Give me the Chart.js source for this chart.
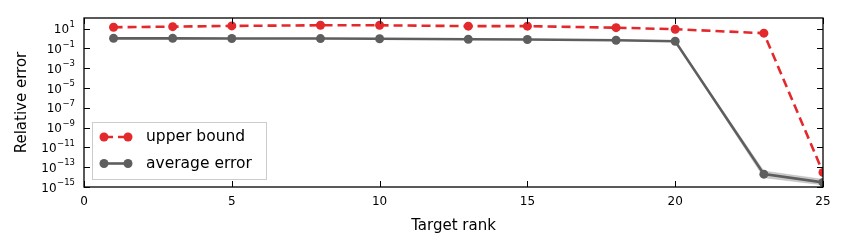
<!DOCTYPE html>
<html><head><meta charset="utf-8">
<script src="https://cdn.jsdelivr.net/npm/chart.js@4.4.1/dist/chart.umd.min.js"></script>
<style>html,body{margin:0;padding:0;background:#fff;}canvas{display:block;}</style>
</head><body>
<canvas id="c" width="850" height="250"></canvas>
<script>
const targetRanks = [1, 3, 5, 8, 10, 13, 15, 18, 20, 23, 25];
const upperBound = [14, 16, 19, 22, 22, 18, 18, 12.7, 8.8, 3.5, 3e-14];
const averageError = [1.05, 1.05, 1.03, 1.0, 0.95, 0.86, 0.8, 0.68, 0.54, 2.0e-14, 2.9e-15];
const averageErrorMin = [1.0, 1.0, 0.98, 0.95, 0.9, 0.82, 0.76, 0.64, 0.5, 8.7e-15, 1.6e-15];
const averageErrorMax = [1.1, 1.1, 1.08, 1.05, 1.0, 0.9, 0.84, 0.72, 0.58, 4.2e-14, 6.0e-15];
const xTicks = [0, 5, 10, 15, 20, 25];
const yTickExponents = [1, -1, -3, -5, -7, -9, -11, -13, -15];
const seriesLabels = ['upper bound', 'average error'];
const axisTitles = { x: 'Target rank', y: 'Relative error' };

const FONT = 'DejaVu Sans';
const RED = '#e3292b';
const GREY = '#5e5e5e';
const CLIP = { left: 0, top: 0, right: 0, bottom: 0 };

const pts = arr => targetRanks.map((r, i) => ({ x: r, y: arr[i] }));

const overlay = {
  id: 'overlay',
  afterDraw(chart) {
    const { ctx, chartArea: a, scales: { x, y } } = chart;
    ctx.save();
    ctx.strokeStyle = '#000';
    ctx.lineWidth = 1;
    const TL = 6;
    xTicks.forEach(v => {
      const px = Math.round(x.getPixelForValue(v)) + 0.5;
      ctx.beginPath();
      ctx.moveTo(px, a.bottom); ctx.lineTo(px, a.bottom - TL);
      ctx.moveTo(px, a.top); ctx.lineTo(px, a.top + TL);
      ctx.stroke();
    });
    yTickExponents.forEach(e => {
      const py = Math.round(y.getPixelForValue(Math.pow(10, e))) + 0.5;
      ctx.beginPath();
      ctx.moveTo(a.left, py); ctx.lineTo(a.left + TL, py);
      ctx.moveTo(a.right, py); ctx.lineTo(a.right - TL, py);
      ctx.stroke();
    });
    ctx.lineWidth = 1.3;
    ctx.strokeRect(a.left, a.top, a.right - a.left, a.bottom - a.top);

    // y tick labels with superscript exponents
    ctx.fillStyle = '#000';
    ctx.textBaseline = 'middle';
    const rightEdge = a.left - 9;
    yTickExponents.forEach(e => {
      const py = y.getPixelForValue(Math.pow(10, e));
      const sup = (e < 0 ? '\u2212' : '') + Math.abs(e);
      ctx.font = '8.5px "' + FONT + '"';
      const ws = ctx.measureText(sup).width;
      ctx.textAlign = 'left';
      ctx.fillText(sup, rightEdge - ws, py - 4);
      ctx.font = '12px "' + FONT + '"';
      ctx.textAlign = 'right';
      ctx.fillText('10', rightEdge - ws - 0.5, py + 1.5);
    });

    // legend
    const lx = a.left + 8, ly = a.top + 104, lw = 174, lh = 57;
    ctx.fillStyle = 'rgba(255,255,255,0.85)';
    ctx.fillRect(lx, ly, lw, lh);
    ctx.strokeStyle = '#cccccc';
    ctx.lineWidth = 1;
    ctx.strokeRect(lx + 0.5, ly + 0.5, lw, lh);
    [0, 1].forEach(i => {
      const ds = chart.data.datasets[i];
      const cy = ly + 15 + i * 26.5;
      const x1 = lx + 12, x2 = lx + 36;
      ctx.strokeStyle = ds.borderColor;
      ctx.lineWidth = ds.borderWidth;
      ctx.setLineDash(ds.borderDash || []);
      ctx.beginPath();
      ctx.moveTo(x1, cy); ctx.lineTo(x2, cy);
      ctx.stroke();
      ctx.setLineDash([]);
      ctx.fillStyle = ds.pointBackgroundColor;
      [x1, x2].forEach(mx => {
        ctx.beginPath(); ctx.arc(mx, cy, ds.pointRadius, 0, Math.PI * 2); ctx.fill();
      });
      ctx.fillStyle = '#000';
      ctx.font = '15.5px "' + FONT + '"';
      ctx.textAlign = 'left';
      ctx.textBaseline = 'middle';
      ctx.fillText(ds.label, lx + 54, cy);
    });
    ctx.restore();
  }
};

new Chart(document.getElementById('c'), {
  type: 'line',
  data: {
    datasets: [
      {
        label: seriesLabels[0], data: pts(upperBound),
        borderColor: RED, borderWidth: 2.6, borderDash: [9, 5],
        pointRadius: 4.5, pointBackgroundColor: RED, pointBorderWidth: 0,
        fill: false, clip: CLIP, tension: 0
      },
      {
        label: seriesLabels[1], data: pts(averageError),
        borderColor: GREY, borderWidth: 2.6,
        pointRadius: 4.5, pointBackgroundColor: GREY, pointBorderWidth: 0,
        fill: false, clip: CLIP, tension: 0
      },
      {
        label: 'min', data: pts(averageErrorMin),
        borderColor: 'rgba(150,150,150,0.5)', borderWidth: 0.5, pointRadius: 0,
        fill: false, clip: CLIP
      },
      {
        label: 'max', data: pts(averageErrorMax),
        borderColor: 'rgba(150,150,150,0.5)', borderWidth: 0.5, pointRadius: 0,
        backgroundColor: 'rgba(140,140,140,0.45)',
        fill: 2, clip: CLIP
      }
    ]
  },
  options: {
    responsive: false,
    animation: false,
    events: [],
    layout: { padding: { top: 18, right: 27, left: 0, bottom: 0 } },
    plugins: { legend: { display: false }, tooltip: { enabled: false } },
    scales: {
      x: {
        type: 'linear', position: 'bottom', min: 0, max: 25,
        afterBuildTicks: s => { s.ticks = xTicks.map(v => ({ value: v })); },
        afterFit: s => { s.height = 63; },
        grid: { display: false, drawTicks: false },
        border: { display: false },
        ticks: { color: '#000', font: { family: FONT, size: 12 }, padding: 8, maxRotation: 0 },
        title: { display: true, text: axisTitles.x, color: '#000', font: { family: FONT, size: 15 }, padding: { top: 0, bottom: 15 } }
      },
      y: {
        type: 'logarithmic', position: 'left', min: 1e-15, max: 120,
        afterFit: s => { s.width = 84; },
        grid: { display: false, drawTicks: false },
        border: { display: false },
        ticks: { display: false },
        title: { display: true, text: axisTitles.y, color: '#000', font: { family: FONT, size: 15 }, padding: { top: 13, bottom: 0 } }
      }
    }
  },
  plugins: [overlay]
});
</script>
</body></html>
